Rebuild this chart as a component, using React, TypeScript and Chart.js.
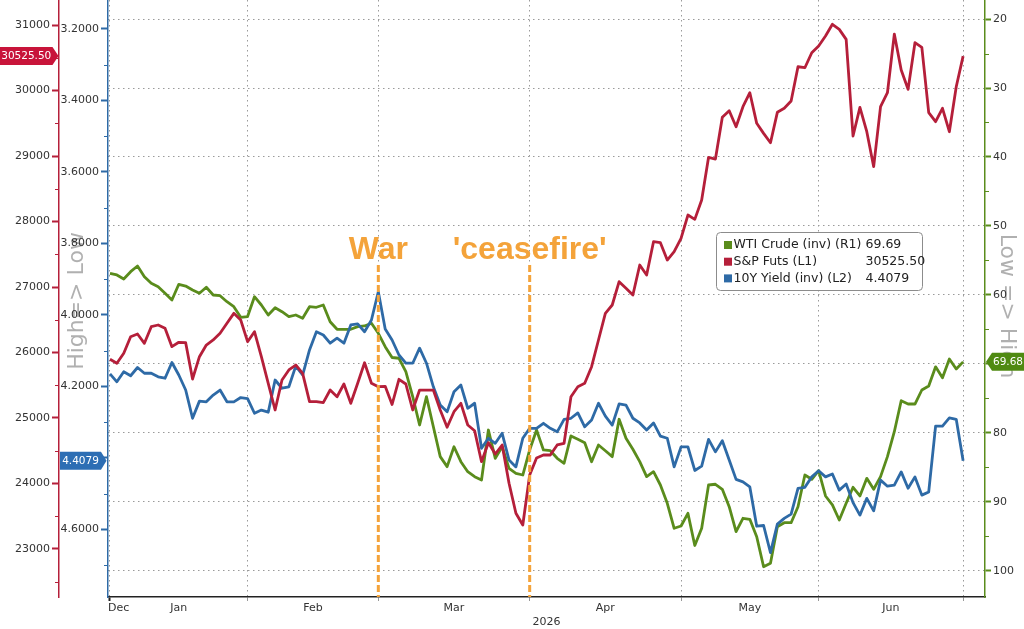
import React, { useEffect, useRef } from "react";
import { Chart, registerables } from "chart.js";

Chart.register(...registerables);

// ---- data (one point per trading day, Dec 31 .. Jun 30) ----
const wtiCrude = [
  56.86, 57.1, 57.68, 56.62, 55.8, 57.35, 58.3, 58.8, 59.75, 60.72,
  58.45, 58.7, 59.28, 59.75, 58.88, 60.0, 60.1, 60.97, 61.7, 63.23,
  63.12, 60.25, 61.45, 62.9, 61.84, 62.42, 63.14, 62.9, 63.38, 61.7,
  61.78, 61.45, 63.87, 64.97, 64.97, 64.97, 64.59, 64.49, 64.1, 65.55,
  67.49, 69.06, 69.17, 71.12, 74.74, 78.84, 74.74, 79.09, 83.43, 84.88,
  81.99, 84.16, 85.61, 86.33, 86.81, 79.57, 83.67, 81.99, 85.12, 85.84,
  86.09, 82.46, 79.57, 82.46, 82.57, 83.67, 84.39, 80.43, 80.91, 81.41,
  84.16, 81.74, 82.57, 83.43, 78.01, 80.77, 82.36, 84.16, 86.33, 85.61,
  87.54, 90.19, 93.81, 93.48, 91.64, 96.3, 93.81, 87.54, 87.43, 88.16,
  90.68, 94.3, 92.36, 92.51, 95.03, 99.38, 98.88, 93.58, 93.0, 93.0,
  90.68, 86.09, 86.71, 85.46, 89.13, 90.43, 92.61, 90.19, 87.87, 89.13,
  86.57, 88.16, 86.33, 83.43, 79.81, 75.32, 75.8, 75.8, 73.77, 73.19,
  70.41, 72.0, 69.28, 70.72, 69.69,
];

const spFuts = [
  25896, 25835, 25988, 26241, 26282, 26140, 26394, 26420, 26369, 26089,
  26156, 26150, 25595, 25936, 26114, 26191, 26293, 26446, 26598, 26496,
  26165, 26318, 25936, 25530, 25122, 25580, 25733, 25809, 25682, 25249,
  25249, 25234, 25427, 25325, 25519, 25224, 25530, 25844, 25530, 25478,
  25484, 25206, 25591, 25519, 25122, 25427, 25427, 25427, 25122, 24858,
  25096, 25224, 24893, 24806, 24333, 24623, 24450, 24588, 24003, 23545,
  23366, 24130, 24389, 24435, 24435, 24588, 24614, 25325, 25478, 25530,
  25783, 26191, 26598, 26725, 27081, 26980, 26878, 27336, 27183, 27692,
  27676, 27412, 27539, 27743, 28099, 28033, 28328, 28980, 28954, 29591,
  29692, 29447, 29753, 29966, 29499, 29346, 29203, 29667, 29728, 29840,
  30363, 30348, 30577, 30679, 30832, 31011, 30934, 30781, 29305, 29743,
  29371, 28837, 29753, 29966, 30862, 30313, 30018, 30730, 30659, 29661,
  29524, 29728, 29371, 30058, 30525.5,
];

const yield10 = [
  4.165, 4.187, 4.159, 4.17, 4.147, 4.163, 4.163, 4.173, 4.177, 4.133,
  4.168, 4.21, 4.289, 4.241, 4.243, 4.224, 4.21, 4.243, 4.243, 4.231,
  4.234, 4.275, 4.266, 4.272, 4.182, 4.205, 4.201, 4.143, 4.168, 4.098,
  4.047, 4.056, 4.079, 4.065, 4.079, 4.028, 4.025, 4.047, 4.014, 3.935,
  4.039, 4.07, 4.112, 4.135, 4.135, 4.093, 4.135, 4.201, 4.252, 4.271,
  4.215, 4.196, 4.261, 4.247, 4.373, 4.345, 4.359, 4.331, 4.406, 4.425,
  4.345, 4.317, 4.317, 4.303, 4.317, 4.327, 4.292, 4.289, 4.274, 4.313,
  4.294, 4.247, 4.283, 4.308, 4.249, 4.252, 4.289, 4.302, 4.322, 4.302,
  4.339, 4.345, 4.425, 4.369, 4.369, 4.435, 4.423, 4.348, 4.383, 4.352,
  4.406, 4.46, 4.467, 4.481, 4.591, 4.589, 4.665, 4.585, 4.569, 4.557,
  4.485, 4.482, 4.453, 4.436, 4.453, 4.445, 4.49, 4.473, 4.525, 4.56,
  4.513, 4.548, 4.462, 4.479, 4.476, 4.439, 4.485, 4.453, 4.504, 4.495,
  4.311, 4.311, 4.288, 4.292, 4.4079,
];

const seriesNames = ["WTI Crude (inv) (R1)", "S&P Futs (L1)", "10Y Yield (inv) (L2)"];
const wtiTagValue = 69.68;

// month-end positions (trading-day index) and month names
const monthEnds = [0, 20, 39, 61, 83, 103, 124];
const monthNames = ["Jan", "Feb", "Mar", "Apr", "May", "Jun"];
const decLabel = "Dec";
const decLabelPos = 1.25;
const yearLabel = "2026";

// axis ticks
const spTicks = [23000, 24000, 25000, 26000, 27000, 28000, 29000, 30000, 31000];
const yieldTicks = [3.2, 3.4, 3.6, 3.8, 4.0, 4.2, 4.4, 4.6];
const wtiTicks = [20, 30, 40, 50, 60, 70, 80, 90, 100];

// events
const eventLabels = ["War", "'ceasefire'"];
const eventIdx = [39, 61];

const sideLeft = "High=> Low";
const sideRight = "Low => High";

// ---- styles ----
const GREEN = "#5A8C1C";
const RED = "#B51F3A";
const BLUE = "#2E6AA6";
const ORANGE = "#F4A33A";
const FONT = '"DejaVu Sans", Verdana, sans-serif';

const X_MIN = -0.29;
const X_MAX = 127.18;
const SP_MIN = 22267;
const SP_MAX = 31382;
const Y_MIN = 3.1189;
const Y_MAX = 4.789;
const W_MIN = 17.246;
const W_MAX = 103.77;

const near = (a: number, b: number) => Math.abs(a - b) < 1e-6;
const isIn = (arr: number[], v: number) => arr.some((a) => near(a, v));

function minorsOf(majors: number[], step: number, min: number, max: number) {
  return majors
    .map((v) => v - step / 2)
    .concat([majors[majors.length - 1] + step / 2])
    .filter((v) => v >= min && v <= max);
}

function roundRect(ctx: CanvasRenderingContext2D, x: number, y: number, w: number, h: number, r: number) {
  ctx.beginPath();
  ctx.moveTo(x + r, y);
  ctx.lineTo(x + w - r, y);
  ctx.quadraticCurveTo(x + w, y, x + w, y + r);
  ctx.lineTo(x + w, y + h - r);
  ctx.quadraticCurveTo(x + w, y + h, x + w - r, y + h);
  ctx.lineTo(x + r, y + h);
  ctx.quadraticCurveTo(x, y + h, x, y + h - r);
  ctx.lineTo(x, y + r);
  ctx.quadraticCurveTo(x, y, x + r, y);
  ctx.closePath();
}

function drawTag(
  ctx: CanvasRenderingContext2D,
  x0: number,
  x1: number,
  tip: number,
  y: number,
  color: string,
  text: string
) {
  const h = 18;
  ctx.save();
  ctx.fillStyle = color;
  ctx.beginPath();
  if (tip > x1) {
    ctx.moveTo(x0, y - h / 2);
    ctx.lineTo(x1, y - h / 2);
    ctx.lineTo(tip, y);
    ctx.lineTo(x1, y + h / 2);
    ctx.lineTo(x0, y + h / 2);
  } else {
    ctx.moveTo(x1, y - h / 2);
    ctx.lineTo(x0, y - h / 2);
    ctx.lineTo(tip, y);
    ctx.lineTo(x0, y + h / 2);
    ctx.lineTo(x1, y + h / 2);
  }
  ctx.closePath();
  ctx.fill();
  ctx.fillStyle = "#ffffff";
  ctx.font = `10.5px ${FONT}`;
  ctx.textAlign = "center";
  ctx.textBaseline = "middle";
  ctx.fillText(text, (x0 + x1) / 2, y + 0.5);
  ctx.restore();
}

const spMinor = minorsOf(spTicks, 1000, SP_MIN, SP_MAX);
const yMinor = minorsOf(yieldTicks, 0.2, Y_MIN, Y_MAX);
const wMinor = minorsOf(wtiTicks, 10, W_MIN, W_MAX);

const overlayPlugin = {
  id: "overlay",
  beforeDraw(chart: any) {
    const { ctx, chartArea } = chart;
    ctx.save();
    ctx.fillStyle = "rgba(150,150,150,0.75)";
    ctx.font = `22px ${FONT}`;
    ctx.textAlign = "center";
    ctx.textBaseline = "middle";
    ctx.save();
    ctx.translate(77, chartArea.top + 301);
    ctx.rotate(-Math.PI / 2);
    ctx.fillText(sideLeft, 0, 0);
    ctx.restore();
    ctx.save();
    ctx.translate(1007, chartArea.top + 306);
    ctx.rotate(Math.PI / 2);
    ctx.fillText(sideRight, 0, 0);
    ctx.restore();
    ctx.restore();
  },
  afterDraw(chart: any) {
    const { ctx, chartArea, scales } = chart;
    const xs = scales.x;
    ctx.save();

    // minor ticks (short)
    const minorSets: [any, number[], string, number][] = [
      [scales.sp, spMinor, RED, -1],
      [scales.y10, yMinor, BLUE, -1],
      [scales.wti, wMinor, GREEN, 1],
    ];
    minorSets.forEach(([sc, vals, col, dir]) => {
      const edge = dir < 0 ? sc.right : sc.left;
      ctx.strokeStyle = col;
      ctx.lineWidth = 1;
      vals.forEach((v) => {
        const y = Math.round(sc.getPixelForValue(v)) + 0.5;
        ctx.beginPath();
        ctx.moveTo(edge, y);
        ctx.lineTo(edge + dir * 4, y);
        ctx.stroke();
      });
    });

    // event lines + labels
    eventIdx.forEach((idx, k) => {
      const x = xs.getPixelForValue(idx);
      ctx.strokeStyle = ORANGE;
      ctx.lineWidth = 3;
      ctx.setLineDash([7, 3]);
      ctx.beginPath();
      ctx.moveTo(x, chartArea.top + 265);
      ctx.lineTo(x, chartArea.bottom);
      ctx.stroke();
      ctx.setLineDash([]);
      ctx.fillStyle = ORANGE;
      ctx.font = `bold 32px "Liberation Sans", Arial, sans-serif`;
      ctx.textAlign = "center";
      ctx.textBaseline = "alphabetic";
      ctx.fillText(eventLabels[k], x, chartArea.top + 259);
    });

    // legend box
    const lx = 716.5;
    const ly = chartArea.top + 232.5;
    ctx.fillStyle = "#ffffff";
    ctx.strokeStyle = "#8c8c8c";
    ctx.lineWidth = 1;
    roundRect(ctx, lx, ly, 206, 58, 4);
    ctx.fill();
    ctx.stroke();
    const colors = [GREEN, RED, BLUE];
    const vals = [
      wtiCrude[wtiCrude.length - 1].toFixed(2),
      spFuts[spFuts.length - 1].toFixed(2),
      yield10[yield10.length - 1].toFixed(4),
    ];
    ctx.font = `12.5px ${FONT}`;
    ctx.textBaseline = "middle";
    ctx.textAlign = "left";
    seriesNames.forEach((name, k) => {
      const cy = ly + 12.5 + k * 16.7;
      ctx.fillStyle = colors[k];
      ctx.fillRect(lx + 7.5, cy - 4, 8, 8);
      ctx.fillStyle = "#222";
      ctx.fillText(name, lx + 17, cy);
      ctx.fillText(vals[k], lx + 149, cy);
    });

    // value tags
    const ySp = scales.sp.getPixelForValue(spFuts[spFuts.length - 1]);
    drawTag(ctx, 0, 52.5, 58.5, ySp, "#C8143A", spFuts[spFuts.length - 1].toFixed(2));
    const yY = scales.y10.getPixelForValue(yield10[yield10.length - 1]);
    drawTag(ctx, 60, 101, 106.5, yY, "#2D6EB4", yield10[yield10.length - 1].toFixed(4));
    const yW = scales.wti.getPixelForValue(wtiTagValue);
    drawTag(ctx, 992, 1024, 986, yW, "#4F8A12", wtiTagValue.toFixed(2));
    ctx.restore();
  },
};

const monthMid = monthNames.map((_, i) => (monthEnds[i] + monthEnds[i + 1]) / 2);
const xLabelPos = [decLabelPos].concat(monthMid);
const xLabelText = [decLabel].concat(monthNames);
const xAllTicks = monthEnds.concat(xLabelPos).sort((a, b) => a - b);

export default function App() {
  const ref = useRef<HTMLCanvasElement | null>(null);

  useEffect(() => {
    if (!ref.current) return;
    const toXY = (arr: number[]) => arr.map((v, i) => ({ x: i, y: v }));

    const chart = new Chart(ref.current, {
      type: "line",
      data: {
        datasets: [
          {
            label: seriesNames[1],
            data: toXY(spFuts),
            yAxisID: "sp",
            borderColor: RED,
            borderWidth: 2.8,
            pointRadius: 0,
            tension: 0,
            borderJoinStyle: "round",
            order: 0,
          },
          {
            label: seriesNames[2],
            data: toXY(yield10),
            yAxisID: "y10",
            borderColor: BLUE,
            borderWidth: 2.8,
            pointRadius: 0,
            tension: 0,
            borderJoinStyle: "round",
            order: 1,
          },
          {
            label: seriesNames[0],
            data: toXY(wtiCrude),
            yAxisID: "wti",
            borderColor: GREEN,
            borderWidth: 2.8,
            pointRadius: 0,
            tension: 0,
            borderJoinStyle: "round",
            order: 2,
          },
        ],
      },
      options: {
        animation: false,
        responsive: true,
        maintainAspectRatio: false,
        events: [],
        layout: { padding: { top: 20, left: 0, right: 0, bottom: 0 } },
        plugins: {
          legend: { display: false },
          tooltip: { enabled: false },
        },
        scales: {
          x: {
            type: "linear",
            position: "bottom",
            min: X_MIN,
            max: X_MAX,
            afterBuildTicks: (s: any) => {
              s.ticks = xAllTicks.map((v) => ({ value: v }));
            },
            afterFit: (s: any) => {
              s.height = 32;
            },
            ticks: {
              autoSkip: false,
              maxRotation: 0,
              minRotation: 0,
              padding: 1,
              color: "#333",
              font: { family: FONT, size: 11 },
              callback: (v: any) => {
                const k = xLabelPos.findIndex((p) => near(p, Number(v)));
                return k >= 0 ? xLabelText[k] : "";
              },
            },
            grid: {
              drawOnChartArea: true,
              drawTicks: true,
              tickLength: 4,
              lineWidth: 1,
              color: (c: any) => (c.tick && isIn(monthEnds, c.tick.value) ? "#9a9a9a" : "rgba(0,0,0,0)"),
              tickColor: (c: any) =>
                c.tick && isIn(monthEnds, c.tick.value)
                  ? near(c.tick.value, 0)
                    ? "#222"
                    : "#999"
                  : "rgba(0,0,0,0)",
              tickWidth: (c: any) => (c.tick && near(c.tick.value, 0) ? 2 : 1),
            },
            border: { display: true, color: "#222", width: 1.5, dash: [1.5, 3.5] },
            title: {
              display: true,
              text: yearLabel,
              color: "#333",
              font: { family: FONT, size: 11 },
              padding: { top: 0, bottom: 0 },
            },
          },
          y10: {
            type: "linear",
            position: "left",
            reverse: true,
            weight: 0,
            min: Y_MIN,
            max: Y_MAX,
            afterBuildTicks: (s: any) => {
              s.ticks = yieldTicks.map((v) => ({ value: v }));
            },
            afterFit: (s: any) => {
              s.width = 49;
            },
            ticks: {
              padding: 2,
              color: "#333",
              font: { family: FONT, size: 11 },
              callback: (v: any) => Number(v).toFixed(4),
            },
            grid: {
              drawOnChartArea: false,
              tickLength: 7,
              tickColor: BLUE,
              tickWidth: 2,
            },
            border: { display: true, color: BLUE, width: 1.5 },
          },
          sp: {
            type: "linear",
            position: "left",
            weight: 5,
            min: SP_MIN,
            max: SP_MAX,
            afterBuildTicks: (s: any) => {
              s.ticks = spTicks.map((v) => ({ value: v }));
            },
            afterFit: (s: any) => {
              s.width = 59;
            },
            ticks: {
              padding: 2,
              color: "#333",
              font: { family: FONT, size: 11 },
              callback: (v: any) => String(v),
            },
            grid: {
              drawOnChartArea: false,
              tickLength: 7,
              tickColor: RED,
              tickWidth: 2,
            },
            border: { display: true, color: RED, width: 1.5 },
          },
          wti: {
            type: "linear",
            position: "right",
            reverse: true,
            min: W_MIN,
            max: W_MAX,
            afterBuildTicks: (s: any) => {
              s.ticks = wtiTicks.map((v) => ({ value: v }));
            },
            afterFit: (s: any) => {
              s.width = 39;
            },
            ticks: {
              padding: 2,
              color: "#333",
              font: { family: FONT, size: 11 },
              callback: (v: any) => String(v),
            },
            grid: {
              drawOnChartArea: true,
              tickLength: 6,
              lineWidth: 1,
              color: "#9a9a9a",
              tickColor: GREEN,
              tickWidth: 2,
            },
            border: { display: true, color: GREEN, width: 1.5, dash: [1.5, 3.5] },
          },
        },
      } as any,
      plugins: [overlayPlugin as any],
    });
    return () => chart.destroy();
  }, []);

  return (
    <div
      style={{
        position: "fixed",
        left: 0,
        top: -20,
        width: 1024,
        height: 649,
        background: "#ffffff",
      }}
    >
      <canvas ref={ref} />
    </div>
  );
}
